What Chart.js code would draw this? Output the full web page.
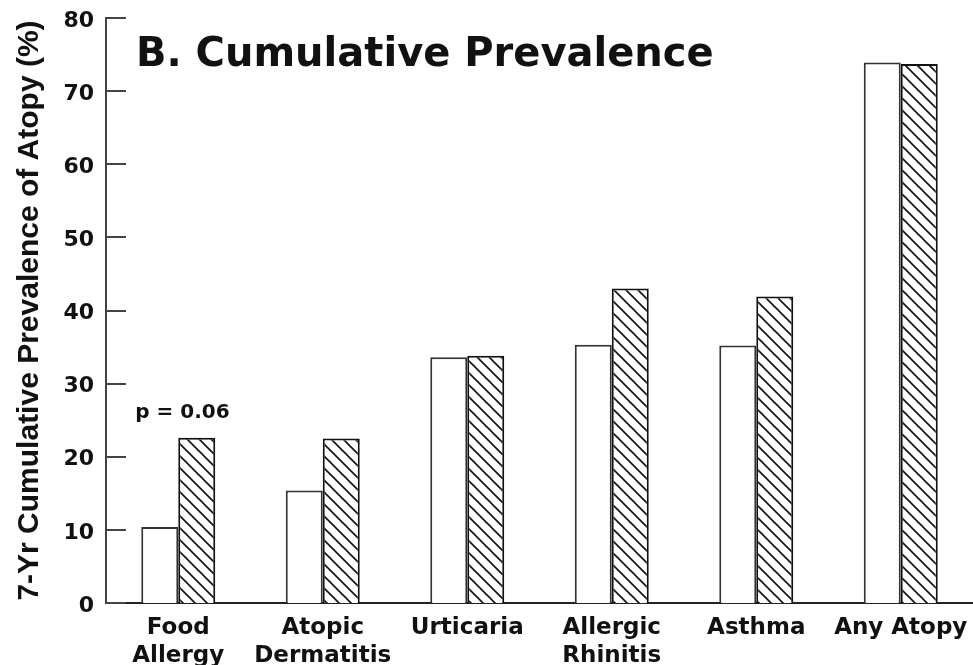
<!DOCTYPE html>
<html>
<head>
<meta charset="utf-8">
<script src="https://cdn.jsdelivr.net/npm/chart.js@4/dist/chart.umd.min.js"></script>
<style>
  html, body { margin: 0; padding: 0; background: #fff; }
  #wrap { position: relative; width: 973px; height: 665px; }
</style>
</head>
<body>
<div id="wrap"><canvas id="chart"></canvas></div>
<script>
  var categories = [['Food', 'Allergy'], ['Atopic', 'Dermatitis'], 'Urticaria', ['Allergic', 'Rhinitis'], 'Asthma', 'Any Atopy'];
  var openValues = [10.4, 15.4, 33.6, 35.3, 35.2, 73.9];
  var hatchedValues = [22.6, 22.5, 33.8, 43.0, 41.9, 73.7];
  var yTicks = [0, 10, 20, 30, 40, 50, 60, 70, 80];

  var chartTitle = 'B. Cumulative Prevalence';
  var yTitle = '7-Yr Cumulative Prevalence of Atopy (%)';
  var pNote = 'p = 0.06';

  var ink = '#111';

  // diagonal "\\" hatching on white
  var makeHatch = function () {
    let c = document.createElement('canvas');
    c.width = 12;
    c.height = 12;
    let g = c.getContext('2d');
    g.fillStyle = '#fff';
    g.fillRect(0, 0, 12, 12);
    g.strokeStyle = ink;
    g.lineWidth = 1.6;
    g.beginPath();
    g.moveTo(-2, -2); g.lineTo(14, 14);
    g.moveTo(-2, 10); g.lineTo(2, 14);
    g.moveTo(10, -2); g.lineTo(14, 2);
    g.stroke();
    return g.createPattern(c, 'repeat');
  };

  var extras = {
    id: 'extras',
    afterDraw: function (chart) {
      let ctx = chart.ctx;
      let x = chart.scales.x;
      let y = chart.scales.y;
      ctx.save();

      // tick marks pointing into the plot
      ctx.strokeStyle = '#444';
      ctx.lineWidth = 2;
      yTicks.forEach(function (v) {
        let py = Math.round(y.getPixelForValue(v));
        ctx.beginPath();
        ctx.moveTo(y.right, py);
        ctx.lineTo(y.right + 20, py);
        ctx.stroke();
      });

      ctx.fillStyle = ink;
      ctx.font = 'bold 40px "DejaVu Sans"';
      ctx.textAlign = 'left';
      ctx.textBaseline = 'alphabetic';
      ctx.fillText(chartTitle, 136, 66);

      ctx.font = 'bold 20px "DejaVu Sans"';
      ctx.textBaseline = 'middle';
      ctx.fillText(pNote, x.getPixelForValue(0) - 43, y.getPixelForValue(hatchedValues[0]) - 25);

      ctx.restore();
    }
  };

  var config = {
    type: 'bar',
    data: {
      labels: categories,
      datasets: [{
        data: openValues,
        backgroundColor: '#fff',
        borderColor: '#333',
        borderWidth: 2,
        borderSkipped: 'bottom'
      }, {
        data: hatchedValues,
        backgroundColor: makeHatch(),
        borderColor: ink,
        borderWidth: 2,
        borderSkipped: 'bottom'
      }]
    },
    options: {
      responsive: true,
      maintainAspectRatio: false,
      animation: false,
      layout: { padding: { top: 18, right: 0, bottom: 0, left: 0 } },
      datasets: { bar: { categoryPercentage: 0.512, barPercentage: 1 } },
      plugins: {
        legend: { display: false },
        tooltip: { enabled: false }
      },
      scales: {
        x: {
          grid: { display: false, drawTicks: false },
          border: { display: true, color: '#222', width: 2 },
          ticks: {
            color: ink,
            padding: 11,
            maxRotation: 0,
            autoSkip: false,
            font: { family: 'DejaVu Sans', size: 23, weight: 'bold', lineHeight: 1.22 }
          },
          afterFit: function (scale) {
            scale.height = 62;
            scale.paddingLeft = 0;
            scale.paddingRight = 0;
          }
        },
        y: {
          min: 0,
          max: 80,
          grid: { display: false, drawTicks: false },
          border: { display: true, color: '#444', width: 2 },
          ticks: {
            stepSize: 10,
            color: ink,
            padding: 12,
            labelOffset: 3,
            font: { family: 'DejaVu Sans', size: 22, weight: 'bold' }
          },
          title: {
            display: true,
            text: yTitle,
            color: ink,
            padding: { top: 12, bottom: 0 },
            font: { family: 'Liberation Sans', size: 30, weight: 'bold' }
          },
          afterFit: function (scale) {
            scale.width = 106;
            scale.paddingTop = 0;
            scale.paddingBottom = 0;
          }
        }
      }
    },
    plugins: [extras]
  };

  var ctx = document.getElementById('chart').getContext('2d');
  var chart = new Chart(ctx, config);
</script>
</body>
</html>
